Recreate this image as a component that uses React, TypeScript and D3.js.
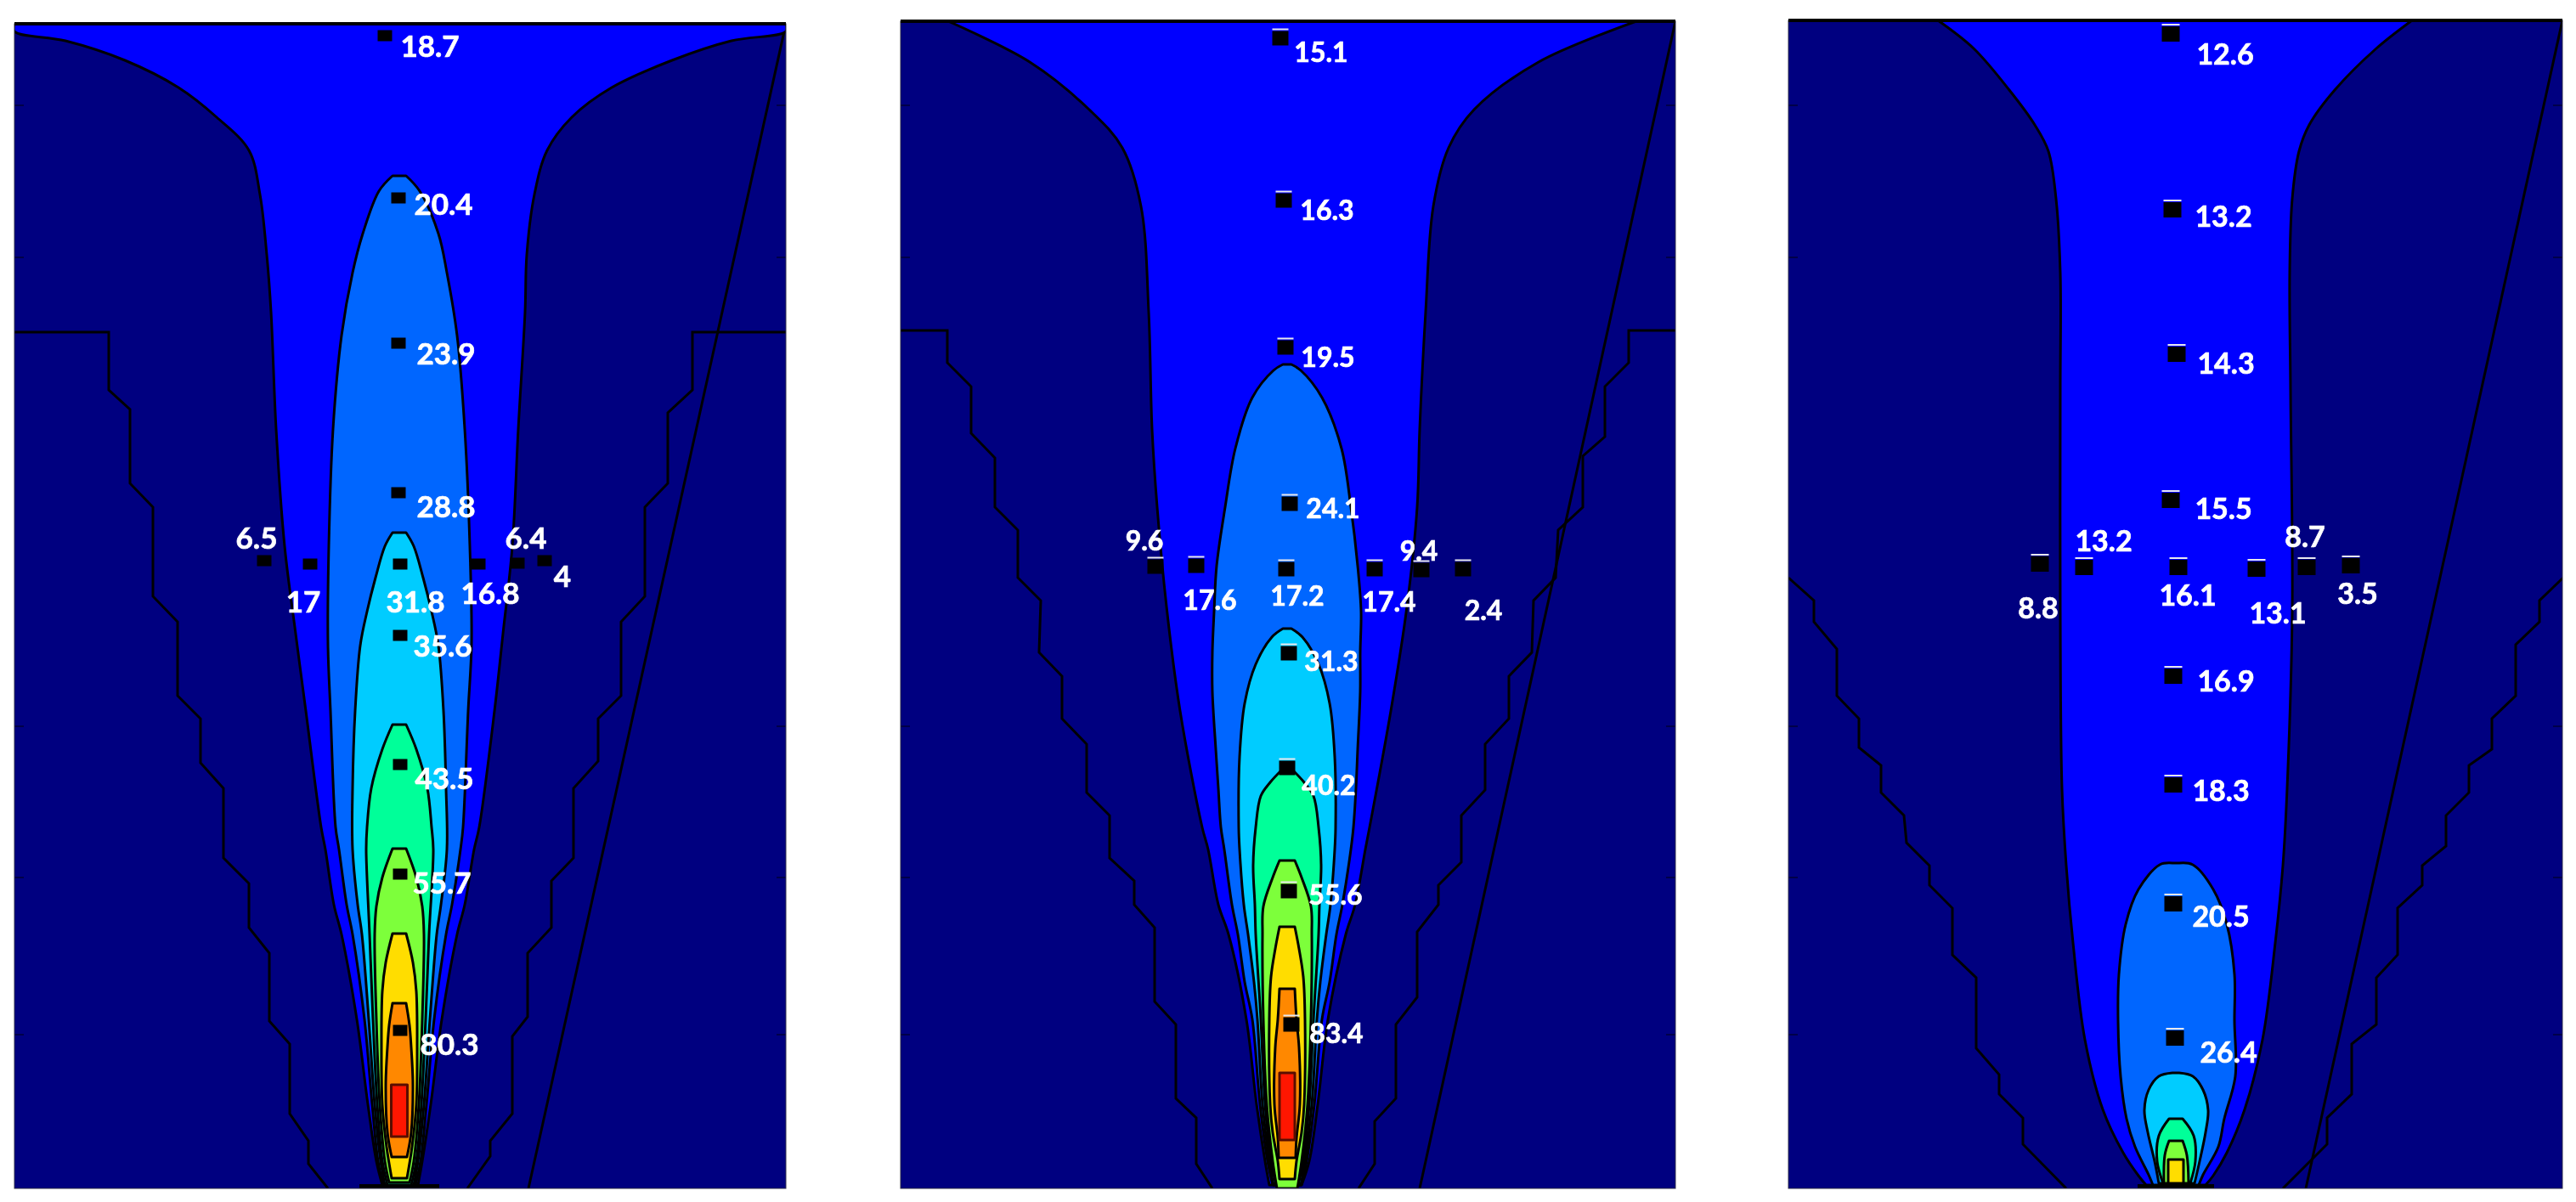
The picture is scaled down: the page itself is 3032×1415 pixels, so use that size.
import React from "react";
import * as d3 from "d3";

// Contour rows: [height above floor, half-width left, half-width right]
type Row = [number, number, number];
type Step = [number, number];

const levelColors = ["#0000ff", "#0066ff", "#00ccff", "#00ff99", "#7dff3a", "#ffdd00", "#ff8800", "#ff1500"];
const navy = "#000080";

// ---------- panel A ----------
const a1: Row[] = [[1371,453,455],[1362,453,455],[1351,393,391],[1328,323,321],[1296,260,250],[1261,215,203],[1222,177,174],[1170,164,159],[1099,156,150],[1032,151,148],[894,145,140],[756,135,133],[653,122,122],[562,110,112],[425,92,94],[399,87,88],[334,77,77],[299,68,68],[199,50,50],[99,37,37],[32,27,27],[4,20,22]];
const a2: Row[] = [[1192,8,8],[1174,24,24],[1124,43,46],[1078,55,56],[1004,68,68],[894,78,77],[756,83,83],[640,84,85],[562,81,81],[425,75,75],[399,71,72],[334,62,62],[299,55,55],[199,41,41],[99,32,32],[32,25,25],[4,19,19]];
const a3: Row[] = [[772,8,8],[756,17,17],[719,28,28],[679,38,38],[639,46,46],[562,52,52],[471,55,55],[399,55,56],[334,49,49],[299,44,44],[199,36,36],[99,29,29],[32,22,22],[4,17,17]];
const a4: Row[] = [[546,8,8],[517,20,20],[471,33,33],[425,38,38],[399,39,40],[299,35,35],[199,31,31],[99,26,26],[32,20,20],[4,14,14]];
const a5: Row[] = [[400,8,8],[366,20,20],[332,27,27],[299,29,29],[199,27,27],[99,23,23],[32,17,17],[7,12,12]];
const a6: Row[] = [[300,8,8],[266,16,16],[232,20,20],[166,21,21],[99,20,20],[49,15,15],[12,9,9]];
const a7: Row[] = [[218,8,8],[192,12,12],[166,14,14],[122,16,16],[66,14,14],[37,9,9]];
const a8: Row[] = [[122,9.5,9.5],[61,9.5,9.5]];
const aStepL: Step[] = [[1008,453],[1008,342],[940,342],[917,317],[830,317],[802,290],[697,290],[667,261],[580,261],[553,234],[501,234],[471,207],[389,207],[359,177],[307,177],[277,153],[197,153],[170,129],[88,129],[56,107],[29,107],[0,84]];
const aStepR: Step[] = [[1008,455],[1008,345],[940,345],[913,316],[830,316],[802,289],[697,289],[667,261],[580,261],[553,234],[503,234],[471,205],[389,205],[362,179],[307,179],[277,151],[202,151],[179,133],[88,133],[56,107],[38,107],[0,80]];
const aValues = ["18.7","20.4","23.9","28.8","31.8","6.5","17","16.8","6.4","4","35.6","43.5","55.7","80.3"];
const aX = [-17,-1,-1,-1,1,-159,-105,93,139,171,1,1,1,1];
const aH = [1357,1166,995,819,735,739,735,735,736,739,651,499,370,186];
const aLabelX = [36,52,55,55,19,-168,-113,107,149,192,51,53,50,59];
const aLabelH = [1346,1160,984,804,692,767,692,702,767,722,640,484,361,171];

// ---------- panel B ----------
const b1: Row[] = [[1374,399,411],[1326,303,296],[1270,233,220],[1225,194,190],[1156,172,172],[1032,163,163],[894,159,156],[802,153,153],[685,142,141],[562,126,122],[425,100,97],[399,93,92],[334,81,80],[299,69,69],[199,48,48],[99,36,36],[32,26,26],[4,21,17]];
const b2: Row[] = [[970,5,5],[963,16,16],[931,41,41],[871,61,64],[802,73,75],[733,83,83],[679,86,87],[631,88,86],[585,88,86],[517,84,83],[471,81,81],[425,78,78],[399,74,75],[334,65,65],[299,58,58],[243,50,50],[199,41,41],[99,32,32],[32,23,23],[4,17,17]];
const b3: Row[] = [[659,5,5],[649,18,18],[617,37,37],[571,50,50],[508,56,56],[425,57,57],[399,56,56],[334,51,51],[299,46,46],[243,39,39],[199,35,35],[99,29,29],[32,21,21],[4,16,16]];
const b4: Row[] = [[491,8,8],[478,20,20],[462,31,31],[425,37,37],[380,40,40],[334,38,38],[299,37,37],[199,31,31],[99,26,26],[32,19,19],[4,13,13]];
const b5: Row[] = [[386,9,9],[366,17,17],[332,28,28],[299,29,29],[199,28,28],[99,24,24],[32,17,17],[0,12,12]];
const b6: Row[] = [[308,9,9],[282,14,14],[249,19,19],[199,21,21],[99,20,20],[66,17,17],[32,11,11],[11,9,9]];
const b7: Row[] = [[235,9,9],[199,11,11],[166,14,14],[99,15,15],[59,11,11],[36,10,10]];
const b8: Row[] = [[136,9,9],[57,9,9]];
const bStepL: Step[] = [[1010,455],[1010,400],[972,400],[944,372],[889,372],[860,344],[802,344],[775,317],[719,317],[692,290],[631,292],[603,265],[553,265],[523,236],[466,236],[439,209],[389,209],[362,180],[334,180],[307,156],[220,156],[193,131],[106,131],[83,107],[29,107],[0,88]];
const bStepR: Step[] = [[1010,457],[1010,402],[972,402],[944,374],[885,374],[862,348],[802,348],[775,319],[719,316],[692,290],[631,288],[603,261],[553,261],[523,233],[469,233],[439,205],[384,205],[357,178],[334,178],[302,153],[225,153],[193,128],[106,128],[79,103],[29,103],[0,84]];
const bValues = ["15.1","16.3","19.5","24.1","17.2","9.6","17.6","17.4","9.4","2.4","31.3","40.2","55.6","83.4"];
const bX = [-8,-4,-2,3,-1,-155,-107,103,158,207,2,0,2,5];
const bH = [1354,1163,990,806,729,732,733,729,728,729,630,495,350,193];
const bLabelX = [40,47,48,54,12,-168,-91,120,155,231,52,49,57,58];
const bLabelH = [1339,1153,980,802,699,764,694,692,752,682,622,476,347,184];

// ---------- panel C ----------
const c1: Row[] = [[1375,280,278],[1342,238,236],[1293,196,187],[1252,166,157],[1221,150,145],[1165,141,137],[1078,136,134],[940,136,135],[679,136,137],[471,134,131],[380,129,126],[289,121,117],[175,107,102],[93,86,81],[42,62,60],[15,44,44],[4,35,35]];
const c2: Row[] = [[383,4,4],[381,19,20],[352,44,44],[311,59,60],[252,67,69],[197,68,69],[132,65,70],[82,58,57],[49,48,50],[16,32,32],[4,27,27]];
const c3: Row[] = [[136,4,4],[132,20,20],[116,32,32],[92,37,38],[66,33,35],[32,25,28],[6,20,22]];
const c4: Row[] = [[82,8,8],[62,20,21],[32,22,23],[6,15,17]];
const c5: Row[] = [[56,8,8],[39,13,13],[6,14,15]];
const c6: Row[] = [[34,9,9],[6,9,9]];
const cStepL: Step[] = [[719,456],[692,426],[667,426],[635,399],[580,399],[553,373],[519,373],[498,347],[466,347],[439,320],[407,317],[380,290],[357,290],[330,263],[275,263],[248,235],[165,235],[134,208],[111,208],[83,180],[52,180],[0,129]];
const cStepR: Step[] = [[719,456],[692,428],[667,428],[640,400],[580,400],[553,372],[517,372],[498,345],[466,345],[439,318],[403,318],[380,290],[357,290],[330,261],[275,261],[248,236],[193,236],[170,207],[111,207],[83,178],[52,178],[0,126]];
const cValues = ["12.6","13.2","14.3","15.5","8.8","13.2","16.1","13.1","8.7","3.5","16.9","18.3","20.5","26.4"];
const cX = [-6,-4,1,-6,-160,-108,3,95,154,206,-3,-3,-3,-1];
const cH = [1359,1152,982,810,735,731,731,729,731,733,603,475,335,177];
const cLabelX = [58,56,59,56,-162,-85,14,120,152,214,59,53,53,62];
const cLabelH = [1337,1146,973,802,685,764,700,679,769,702,599,470,322,162];

const edgeTicks = [1275, 1096, 544, 366, 181];

type PanelProps = {
  id: string; left: number; right: number; top: number; axis: number;
  levels: Row[][]; stepL: Step[]; stepR: Step[];
  values: string[]; xs: number[]; hs: number[]; lx: number[]; lh: number[];
  diagonal: [number, number]; bar: number; fontSize: number;
  markW: number; markH: number; whiteCap: boolean;
};

const FLOOR = 1399;

function contourPath(rows: Row[], x: d3.ScaleLinear<number, number>, y: d3.ScaleLinear<number, number>, straight: boolean) {
  const curve = straight ? d3.curveLinear : d3.curveCatmullRom.alpha(0.5);
  const side = (sign: number, i: 1 | 2, pts: Row[]) =>
    d3.line<Row>().x((r) => x(sign * r[i])).y((r) => y(r[0])).curve(curve)(pts) as string;
  const leftUp = side(-1, 1, [...rows].reverse());
  const rightDown = side(1, 2, rows);
  return leftUp + "L" + rightDown.slice(1) + "Z";
}

function Panel(p: PanelProps) {
  const x = d3.scaleLinear().domain([p.left - p.axis, p.right - p.axis]).range([p.left, p.right]);
  const y = d3.scaleLinear().domain([0, FLOOR - p.top]).range([FLOOR, p.top]);
  const stepLine = (sign: number) =>
    d3.line<Step>().x((s) => x(sign * s[1])).y((s) => y(s[0])).curve(d3.curveLinear);
  const H = FLOOR - p.top;
  const W = p.right - p.left;
  return (
    <g>
      <defs>
        <clipPath id={p.id}>
          <rect x={p.left} y={p.top} width={W} height={H} />
        </clipPath>
      </defs>
      <g filter="url(#soft)">
        <g clipPath={`url(#${p.id})`}>
          <rect x={p.left} y={p.top} width={W} height={H} fill={navy} />
          <path d={stepLine(-1)(p.stepL) as string} fill="none" stroke="#000" strokeWidth={3} />
          <path d={stepLine(1)(p.stepR) as string} fill="none" stroke="#000" strokeWidth={3} />
          <line x1={x(p.diagonal[0])} y1={y(0)} x2={x(p.diagonal[1])} y2={y(H)} stroke="#000" strokeWidth={3} />
          {p.levels.map((rows, i) => (
            <path
              key={i}
              d={contourPath(rows, x, y, rows.length === 2)}
              fill={levelColors[i]}
              stroke={rows.length === 2 && i === 7 ? "#5a1000" : "#000"}
              strokeWidth={3}
              strokeLinejoin="round"
            />
          ))}
          {p.bar > 0 && <rect x={x(-p.bar)} y={y(5)} width={x(p.bar) - x(-p.bar)} height={y(0) - y(5)} fill="#000" />}
          {edgeTicks.map((t) => (
            <g key={t} stroke="#000048" strokeWidth={2}>
              <line x1={p.left} x2={p.left + 11} y1={y(t)} y2={y(t)} />
              <line x1={p.right} x2={p.right - 11} y1={y(t)} y2={y(t)} />
            </g>
          ))}
        </g>
        <rect x={p.left} y={p.top} width={W} height={H} fill="none" stroke="#30304a" strokeWidth={1} />
        <line x1={p.left} x2={p.right} y1={p.top} y2={p.top} stroke="#000" strokeWidth={4} />
        {p.xs.map((v, i) => (
          <g key={i}>
            <rect x={x(v) - p.markW / 2} y={y(p.hs[i]) - p.markH / 2} width={p.markW} height={p.markH} fill="#000" />
            {p.whiteCap && (
              <rect x={x(v) - p.markW / 2} y={y(p.hs[i]) - p.markH / 2 - 3} width={p.markW} height={2} fill="#e8e8ee" />
            )}
          </g>
        ))}
      </g>
      <g filter="url(#softText)">
        {p.values.map((v, i) => (
          <text
            key={i}
            x={x(p.lx[i])}
            y={y(p.lh[i])}
            fill="#fff"
            stroke="#fff"
            strokeWidth={0.7}
            textAnchor="middle"
            dominantBaseline="central"
            fontFamily="Lato, 'Open Sans', sans-serif"
            fontWeight={700}
            fontSize={p.fontSize}
          >
            {v}
          </text>
        ))}
      </g>
    </g>
  );
}

export default function App() {
  return (
    <svg
      width={3032}
      height={1415}
      viewBox="0 0 3032 1415"
      style={{ position: "absolute", left: 0, top: 0, display: "block", background: "#fff" }}
    >
      <defs>
        <filter id="soft" x="-2%" y="-2%" width="104%" height="104%">
          <feGaussianBlur stdDeviation="0.5" />
        </filter>
        <filter id="softText" x="-2%" y="-2%" width="104%" height="104%">
          <feGaussianBlur stdDeviation="0.4" />
        </filter>
      </defs>
      <Panel id="clipA" left={17} right={925} top={28} axis={470}
        levels={[a1, a2, a3, a4, a5, a6, a7, a8]} stepL={aStepL} stepR={aStepR}
        values={aValues} xs={aX} hs={aH} lx={aLabelX} lh={aLabelH}
        diagonal={[152, 455]} bar={47} fontSize={35} markW={17} markH={13} whiteCap={false} />
      <Panel id="clipB" left={1060} right={1972} top={25} axis={1515}
        levels={[b1, b2, b3, b4, b5, b6, b7, b8]} stepL={bStepL} stepR={bStepR}
        values={bValues} xs={bX} hs={bH} lx={bLabelX} lh={bLabelH}
        diagonal={[156, 457]} bar={0} fontSize={32} markW={19} markH={17} whiteCap={true} />
      <Panel id="clipC" left={2105} right={3016} top={24} axis={2561}
        levels={[c1, c2, c3, c4, c5, c6]} stepL={cStepL} stepR={cStepR}
        values={cValues} xs={cX} hs={cH} lx={cLabelX} lh={cLabelH}
        diagonal={[153, 455]} bar={45} fontSize={34} markW={21} markH={18} whiteCap={true} />
    </svg>
  );
}
